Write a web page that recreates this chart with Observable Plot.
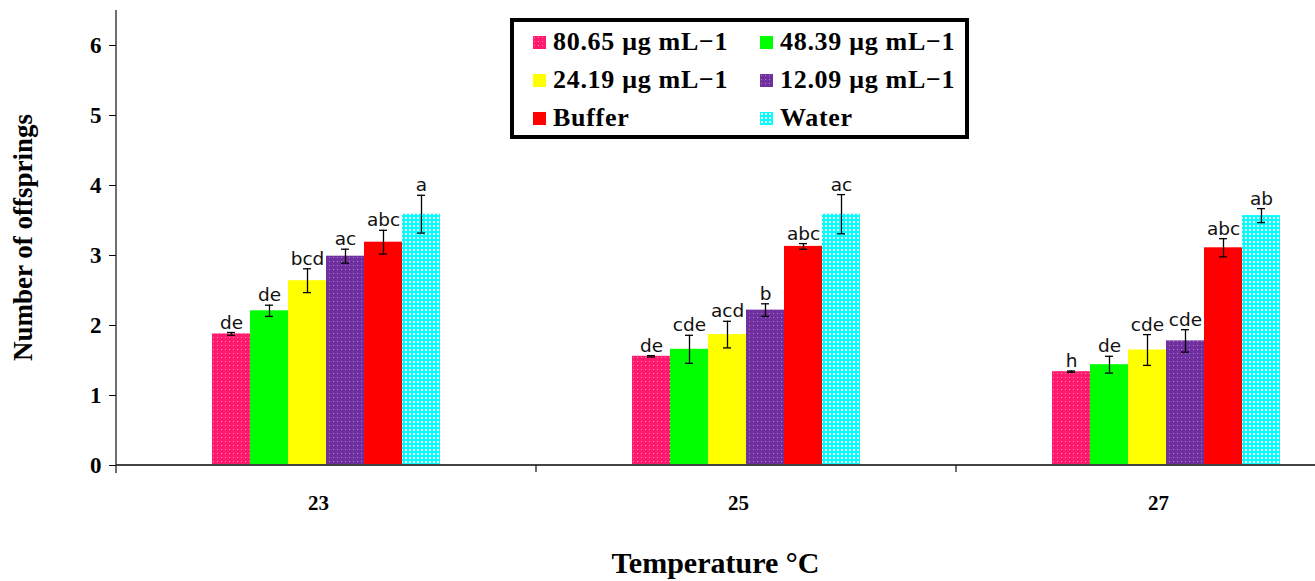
<!DOCTYPE html>
<html>
<head>
<meta charset="utf-8">
<script src="https://cdn.jsdelivr.net/npm/d3@7"></script>
<script src="https://cdn.jsdelivr.net/npm/@observablehq/plot@0.6"></script>
<style>
  body { margin: 0; background: #fff; }
  #wrap { position: relative; width: 1315px; height: 581px; overflow: hidden; }
  #legend {
    position: absolute; left: 510px; top: 18px; height: 112px;
    border: 4px solid #000; background: #fff;
    font: bold 26px "Liberation Serif", "Times New Roman", serif; color: #000; letter-spacing: 0.7px;
    display: grid; grid-template-columns: 227px 227px; grid-template-rows: repeat(3, 38px);
    padding: 1px 0 0 19px; box-sizing: content-box; width: 432px;
  }
  #legend .it { display: flex; align-items: center; white-space: nowrap; }
  #legend svg { margin-right: 7px; flex: none; }
</style>
</head>
<body>
<svg width="0" height="0" style="position:absolute">
  <defs>
    <pattern id="pPink" width="4" height="4" patternUnits="userSpaceOnUse">
      <rect width="4" height="4" fill="#FF1A6E"/>
      <rect x="1" y="1" width="1" height="1" fill="#FF86B4"/>
    </pattern>
    <pattern id="pPurple" width="4" height="4" patternUnits="userSpaceOnUse">
      <rect width="4" height="4" fill="#7030A0"/>
      <rect x="1" y="1" width="1" height="1" fill="#A77FCB"/>
    </pattern>
    <pattern id="pCyan" width="4" height="4" patternUnits="userSpaceOnUse">
      <rect width="4" height="4" fill="#00FFFF"/>
      <rect x="1" y="1" width="2" height="2" fill="#FFFFFF"/>
    </pattern>
  </defs>
</svg>
<div id="wrap">
  <div id="chart"></div>
  <div id="legend"></div>
</div>
<script>
// ---- data ----
const temps = ["23", "25", "27"];
const series = ["80.65 μg mL−1", "48.39 μg mL−1", "24.19 μg mL−1", "12.09 μg mL−1", "Buffer", "Water"];
const fills = ["url(#pPink)", "#00FF00", "#FFFF00", "url(#pPurple)", "#FF0000", "url(#pCyan)"];

const means23 = [1.88, 2.21, 2.64, 2.99, 3.19, 3.59];
const means25 = [1.56, 1.66, 1.87, 2.22, 3.13, 3.59];
const means27 = [1.34, 1.44, 1.65, 1.78, 3.11, 3.57];

const err23 = [0.02, 0.08, 0.17, 0.10, 0.17, 0.27];
const err25 = [0.01, 0.20, 0.19, 0.09, 0.04, 0.28];
const err27 = [0.01, 0.12, 0.22, 0.16, 0.13, 0.10];

const letters23 = ["de", "de", "bcd", "ac", "abc", "a"];
const letters25 = ["de", "cde", "acd", "b", "abc", "ac"];
const letters27 = ["h", "de", "cde", "cde", "abc", "ab"];

const yTicks = [0, 1, 2, 3, 4, 5, 6];
const yLabel = "Number of offsprings";
const xLabel = "Temperature °C";

// ---- table ----
const groups = [
  [temps[0], means23, err23, letters23],
  [temps[1], means25, err25, letters25],
  [temps[2], means27, err27, letters27]
];
const data = groups.flatMap(([temp, m, e, l]) =>
  series.map((s, i) => ({temp, series: s, mean: m[i], lo: m[i] - e[i], hi: m[i] + e[i], letter: l[i]}))
);

const serif = "'Liberation Serif', 'Times New Roman', serif";

const plot = Plot.plot({
  width: 1315,
  height: 581,
  marginLeft: 116,
  marginRight: 0,
  marginTop: 10,
  marginBottom: 116,
  style: {background: "transparent", color: "#000", overflow: "visible"},
  fx: {domain: temps, range: [116, 1376], padding: 0},
  x: {domain: series, paddingInner: 0, paddingOuter: 2.43, axis: null},
  y: {domain: [0, 6.5]},
  color: {domain: series, range: fills},
  marks: [
    Plot.barY(data, {fx: "temp", x: "series", y: "mean", fill: "series"}),
    Plot.ruleX(data, {fx: "temp", x: "series", y1: "lo", y2: "hi", stroke: "#000", strokeWidth: 1.3}),
    Plot.tickY(data, {fx: "temp", x: "series", y: "lo", stroke: "#000", strokeWidth: 1.3, insetLeft: 15, insetRight: 15}),
    Plot.tickY(data, {fx: "temp", x: "series", y: "hi", stroke: "#000", strokeWidth: 1.3, insetLeft: 15, insetRight: 15}),
    Plot.text(data, {fx: "temp", x: "series", y: "hi", text: "letter", lineAnchor: "bottom", dy: -4,
      fontSize: 18.5, fontFamily: "DejaVu Sans", fill: "#111"}),
    Plot.axisY({ticks: yTicks, tickFormat: "d", tickSize: 7, tickPadding: 8, fontSize: 23,
      fontWeight: "bold", fontFamily: serif, label: null}),
    Plot.axisFx({anchor: "bottom", tickSize: 0, tickPadding: 30, fontSize: 21, fontWeight: "bold",
      fontFamily: serif, label: null, dx: -8})
  ]
});

document.getElementById("chart").appendChild(plot);

// ---- axis lines & titles using the plot's scales ----
const ys = plot.scale("y");
const fxs = plot.scale("fx");
const yAt = v => ys.apply(v);
const fxAt = v => fxs.apply(v);
const svg = d3.select(plot);
const g = svg.append("g");
const y0 = yAt(0);
const xLeft = fxAt(temps[0]);
g.append("line").attr("x1", xLeft).attr("x2", 1315).attr("y1", y0).attr("y2", y0)
  .attr("stroke", "#444").attr("stroke-width", 2);
g.append("line").attr("x1", xLeft).attr("x2", xLeft).attr("y1", yAt(6.5)).attr("y2", y0 + 8)
  .attr("stroke", "#222").attr("stroke-width", 1.3);
temps.slice(1).forEach(t => {
  const x = fxAt(t);
  g.append("line").attr("x1", x).attr("x2", x).attr("y1", y0).attr("y2", y0 + 7)
    .attr("stroke", "#222").attr("stroke-width", 1.3);
});
g.append("text")
  .attr("transform", `translate(32,${(yAt(0) + yAt(6.5)) / 2}) rotate(-90)`)
  .attr("text-anchor", "middle")
  .attr("font-family", serif).attr("font-weight", "bold").attr("font-size", 27)
  .attr("fill", "#000")
  .text(yLabel);
g.append("text")
  .attr("x", (xLeft + 1315) / 2).attr("y", 573)
  .attr("text-anchor", "middle")
  .attr("font-family", serif).attr("font-weight", "bold").attr("font-size", 30)
  .attr("fill", "#000")
  .text(xLabel);

// ---- legend ----
const legend = d3.select("#legend");
series.forEach((s, i) => {
  const it = legend.append("div").attr("class", "it");
  it.append("svg").attr("width", 13).attr("height", 13)
    .append("rect").attr("width", 13).attr("height", 13).attr("fill", fills[i]);
  it.append("span").text(s);
});
</script>
</body>
</html>
